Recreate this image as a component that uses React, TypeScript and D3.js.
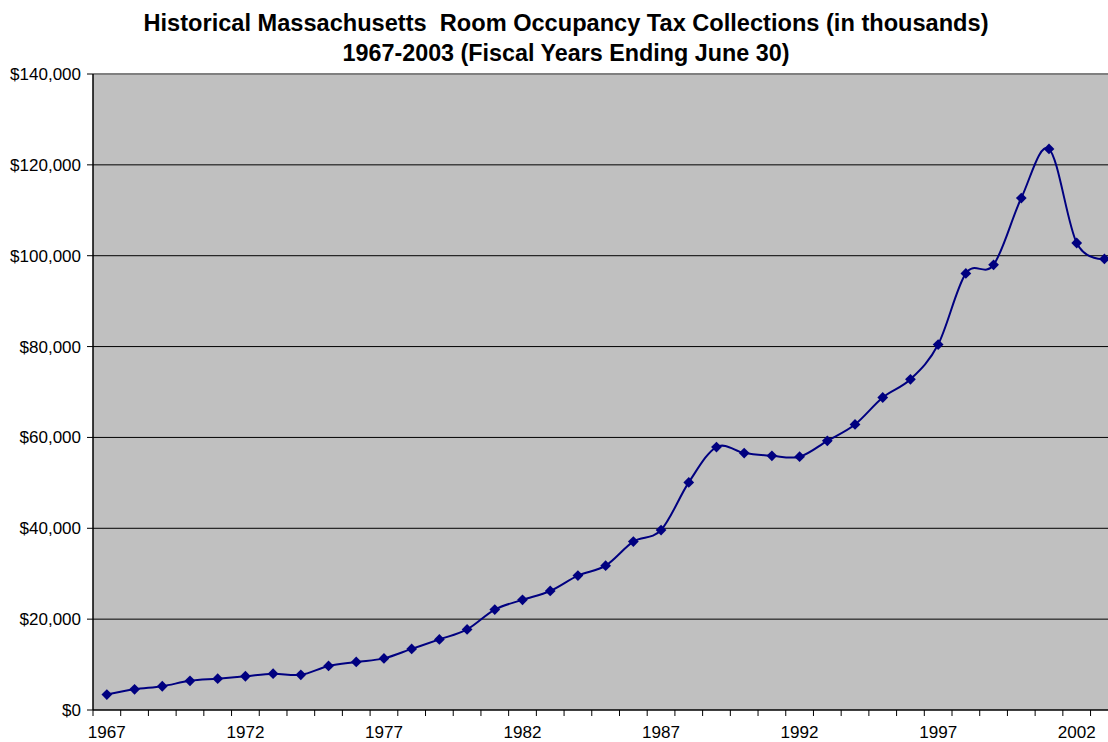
import React from "react";
import * as d3 from "d3";

const years = d3.range(1967, 2004);
const collections = [
  3400, 4550, 5230, 6420, 6900, 7430, 8000, 7750, 9690, 10570, 11360, 13450,
  15540, 17740, 22100, 24250, 26200, 29580, 31780, 37070, 39620, 50100, 57890,
  56570, 55950, 55750, 59250, 62850, 68790, 72800, 80450, 96100, 98000, 112700,
  123500, 102800, 99300,
];
const yTicks = [0, 20000, 40000, 60000, 80000, 100000, 120000, 140000];
const xLabelYears = [1967, 1972, 1977, 1982, 1987, 1992, 1997, 2002];

const W = 1108,
  H = 742;
const left = 93,
  top = 74,
  bottom = 710;
const step = 27.71;

export default function App() {
  const x = d3
    .scaleBand<number>()
    .domain(years)
    .range([left, left + years.length * step]);
  const y = d3.scaleLinear().domain([0, 140000]).range([bottom, top]);
  const cx = (yr: number) => (x(yr) as number) + x.bandwidth() / 2;

  const line = d3
    .line<number>()
    .x((_, i) => cx(years[i]))
    .y((d) => y(d))
    .curve(d3.curveCatmullRom.alpha(0));

  const marker = d3.symbol().type(d3.symbolSquare).size(58)();
  const fmt = d3.format(",");
  const right = left + years.length * step;
  const font = "'Liberation Sans', Arial, sans-serif";

  return (
    <svg
      width={W}
      height={H}
      style={{ position: "absolute", left: 0, top: 0, background: "#fff" }}
      fontFamily={font}
    >
      <text
        x={566}
        y={31}
        textAnchor="middle"
        fontSize={23}
        fontWeight="bold"
        style={{ whiteSpace: "pre" }}
        textLength={845}
        lengthAdjust="spacingAndGlyphs"
      >
        Historical Massachusetts  Room Occupancy Tax Collections (in thousands)
      </text>
      <text
        x={566}
        y={61}
        textAnchor="middle"
        fontSize={23}
        fontWeight="bold"
        textLength={447}
        lengthAdjust="spacingAndGlyphs"
      >
        1967-2003 (Fiscal Years Ending June 30)
      </text>

      {/* plot area */}
      <rect x={left} y={top} width={right - left} height={bottom - top} fill="#c0c0c0" />
      {yTicks.slice(1, -1).map((t) => (
        <line key={t} x1={left} x2={right} y1={y(t)} y2={y(t)} stroke="#000" strokeWidth={1} />
      ))}
      <line x1={left} x2={right} y1={y(140000)} y2={y(140000)} stroke="#808080" strokeWidth={2} />

      {/* y axis */}
      <line x1={left} x2={left} y1={top} y2={bottom} stroke="#000" strokeWidth={1.5} />
      {yTicks.map((t) => (
        <g key={t}>
          <line x1={left - 6} x2={left} y1={y(t)} y2={y(t)} stroke="#000" />
          <text x={81} y={y(t)} dy="0.35em" textAnchor="end" fontSize={17}>
            ${fmt(t)}
          </text>
        </g>
      ))}

      {/* x axis */}
      <line x1={left} x2={right} y1={bottom} y2={bottom} stroke="#000" strokeWidth={1.5} />
      {years.map((yr) => (
        <line
          key={yr}
          x1={x(yr) as number}
          x2={x(yr) as number}
          y1={bottom}
          y2={bottom + 6}
          stroke="#000"
        />
      ))}
      {xLabelYears.map((yr) => (
        <text
          key={yr}
          x={cx(yr)}
          y={738}
          textAnchor="middle"
          fontSize={16}
          textLength={38}
          lengthAdjust="spacingAndGlyphs"
        >
          {yr}
        </text>
      ))}

      {/* series */}
      <path d={line(collections) ?? ""} fill="none" stroke="#000080" strokeWidth={2} />
      {collections.map((v, i) => (
        <path
          key={years[i]}
          d={marker ?? ""}
          transform={`translate(${cx(years[i])},${y(v)}) rotate(45)`}
          fill="#000080"
        />
      ))}
    </svg>
  );
}
